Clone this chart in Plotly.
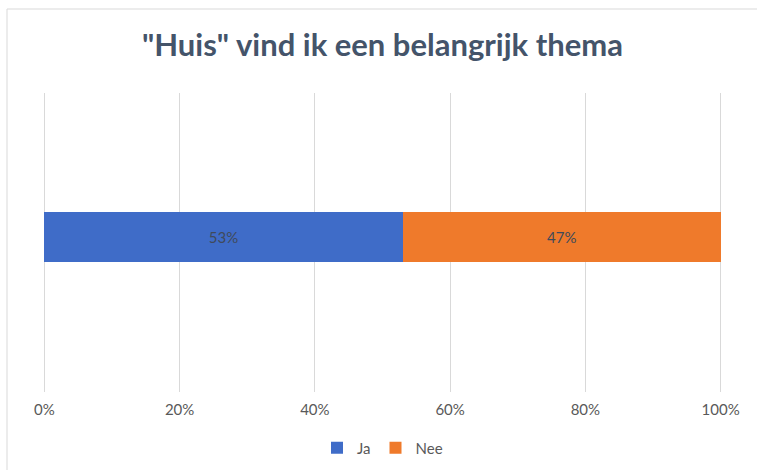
import plotly.graph_objects as go

# Survey answer shares for one question
question = [""]
series_names = ["Ja", "Nee"]
ja_values = [0.53]
nee_values = [0.47]
tick_values = [0, 0.2, 0.4, 0.6, 0.8, 1.0]
tick_labels = ["0%", "20%", "40%", "60%", "80%", "100%"]

colors = {"Ja": "#3F6CC8", "Nee": "#EF7A2B"}
font_family = "Lato, 'Open Sans', sans-serif"

fig = go.Figure()
for name, vals in zip(series_names, [ja_values, nee_values]):
    fig.add_trace(go.Bar(
        y=question,
        x=vals,
        name=name,
        orientation="h",
        width=0.167,
        marker=dict(color=colors[name], line=dict(width=0)),
        text=[f"{v:.0%}" for v in vals],
        textposition="inside",
        insidetextanchor="middle",
        textfont=dict(color="#404A5A", size=15, family=font_family),
        hoverinfo="skip",
    ))

L, R, T, B = 43, 35, 93, 78
W, H = 757, 470
pw, ph = W - L - R, H - T - B

fig.update_layout(
    width=W, height=H,
    barmode="stack",
    margin=dict(l=L, r=R, t=T, b=B, autoexpand=False),
    paper_bgcolor="white",
    plot_bgcolor="white",
    title=dict(
        text='"Huis" vind ik een belangrijk thema',
        x=0.5, xref="paper", xanchor="center",
        y=1 - 45 / H, yanchor="middle",
        font=dict(size=31, color="#44546A", family=font_family, weight="bold"),
    ),
    xaxis=dict(
        range=[-0.002, 1.002],
        tickvals=tick_values,
        ticktext=tick_labels,
        showgrid=True,
        gridcolor="#D9D9D9",
        gridwidth=1,
        zeroline=False,
        showline=False,
        ticks="",
        tickfont=dict(size=15, color="#595959", family=font_family),
        ticklabelstandoff=7,
    ),
    yaxis=dict(
        range=[-0.5184, 0.4816],
        showticklabels=False,
        showgrid=False,
        zeroline=False,
        fixedrange=True,
    ),
    legend=dict(
        orientation="h",
        x=0.5, xanchor="center",
        yref="container",
        y=1 - 448 / H, yanchor="middle",
        font=dict(size=15, color="#595959", family=font_family),
        itemwidth=30,
        traceorder="normal",
    ),
    showlegend=True,
    shapes=[
        dict(
            type="rect", xref="paper", yref="paper",
            x0=(7 - L) / pw, x1=(W + 20 - L) / pw,
            y0=-(H + 20 - T - ph) / ph, y1=(T + ph - 9) / ph,
            line=dict(color="#D9D9D9", width=1),
            fillcolor="rgba(0,0,0,0)",
            layer="below",
        )
    ],
)

fig.write_html("out.html")
